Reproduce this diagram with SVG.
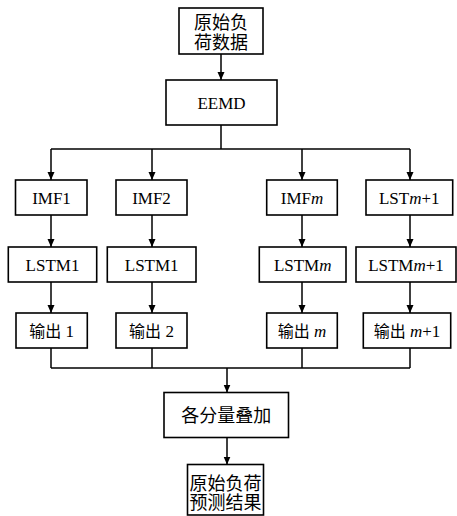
<svg xmlns="http://www.w3.org/2000/svg" width="457" height="516" viewBox="0 0 457 516">
<defs>
<marker id="ah" markerUnits="userSpaceOnUse" markerWidth="8" markerHeight="10" refX="8" refY="4" orient="auto">
<path d="M0,0.5 L8,4 L0,7.5 Z" fill="#000"/>
</marker>
<style>
rect{fill:#fff;stroke:#000;stroke-width:1.6}
.c line{stroke:#000;stroke-width:1.5;fill:none}
text{font-family:"Liberation Serif","Times New Roman",serif;font-size:17px;text-anchor:middle;fill:#000}
.zh{font-family:"Noto Sans CJK SC",sans-serif;font-size:18px}
.zs{font-family:"Noto Sans CJK SC",sans-serif;font-size:16px}
.i{font-style:italic}
</style>
</defs>
<g class="c" id="connectors">
<line x1="221" y1="54" x2="221" y2="80" marker-end="url(#ah)"/>
<line x1="221" y1="125" x2="221" y2="149"/>
<line x1="51" y1="149" x2="410" y2="149"/>
<line x1="51" y1="149" x2="51" y2="180" marker-end="url(#ah)"/>
<line x1="152" y1="149" x2="152" y2="180" marker-end="url(#ah)"/>
<line x1="302" y1="149" x2="302" y2="180" marker-end="url(#ah)"/>
<line x1="410" y1="149" x2="410" y2="180" marker-end="url(#ah)"/>
<line x1="51" y1="215" x2="51" y2="247" marker-end="url(#ah)"/>
<line x1="152" y1="215" x2="152" y2="247" marker-end="url(#ah)"/>
<line x1="302" y1="215" x2="302" y2="247" marker-end="url(#ah)"/>
<line x1="410" y1="215" x2="410" y2="247" marker-end="url(#ah)"/>
<line x1="51" y1="282" x2="51" y2="313" marker-end="url(#ah)"/>
<line x1="152" y1="282" x2="152" y2="313" marker-end="url(#ah)"/>
<line x1="302" y1="282" x2="302" y2="313" marker-end="url(#ah)"/>
<line x1="410" y1="282" x2="410" y2="313" marker-end="url(#ah)"/>
<line x1="51" y1="348" x2="51" y2="368"/>
<line x1="152" y1="348" x2="152" y2="368"/>
<line x1="302" y1="348" x2="302" y2="368"/>
<line x1="410" y1="348" x2="410" y2="368"/>
<line x1="51" y1="368" x2="410" y2="368"/>
<line x1="227" y1="368" x2="227" y2="392.5" marker-end="url(#ah)"/>
<line x1="227" y1="437.5" x2="227" y2="464.5" marker-end="url(#ah)"/>
</g>
<g id="n_raw">
<rect x="179" y="8" width="84" height="46"/>
<text class="zh"><tspan x="221" y="29">原始负</tspan><tspan x="221" y="49">荷数据</tspan></text>
</g>
<g id="n_eemd">
<rect x="166" y="80" width="111" height="45"/>
<text x="221.5" y="108.5">EEMD</text>
</g>
<g id="n_imf1">
<rect x="15.5" y="180" width="71.5" height="35"/>
<text x="51.5" y="203.5">IMF1</text>
</g>
<g id="n_imf2">
<rect x="116" y="180" width="71" height="35"/>
<text x="151.5" y="203.5">IMF2</text>
</g>
<g id="n_imfm">
<rect x="266.7" y="180" width="70.6" height="35"/>
<text x="302" y="203.5">IMF<tspan class="i">m</tspan></text>
</g>
<g id="n_lstm1p">
<rect x="366" y="180" width="86.7" height="35"/>
<text x="409.3" y="203.5">LST<tspan class="i">m</tspan>+1</text>
</g>
<g id="n_lstm1">
<rect x="8.3" y="247" width="88.4" height="35"/>
<text x="52.5" y="270.5">LSTM1</text>
</g>
<g id="n_lstm1b">
<rect x="107.3" y="247" width="88.7" height="35"/>
<text x="151.7" y="270.5">LSTM1</text>
</g>
<g id="n_lstmm">
<rect x="259.3" y="247" width="86.7" height="35"/>
<text x="302.7" y="270.5">LSTM<tspan class="i">m</tspan></text>
</g>
<g id="n_lstmm1">
<rect x="356" y="247" width="100" height="35"/>
<text x="406" y="270.5">LSTM<tspan class="i">m</tspan>+1</text>
</g>
<g id="n_out1">
<rect x="16" y="313" width="71.3" height="35"/>
<text x="51.7" y="336.5"><tspan class="zs">输出</tspan> 1</text>
</g>
<g id="n_out2">
<rect x="116" y="313" width="71" height="35"/>
<text x="151.5" y="336.5"><tspan class="zs">输出</tspan> 2</text>
</g>
<g id="n_outm">
<rect x="266.7" y="313" width="70.6" height="35"/>
<text x="302" y="336.5"><tspan class="zs">输出</tspan> <tspan class="i">m</tspan></text>
</g>
<g id="n_outm1">
<rect x="363.3" y="313" width="87.4" height="35"/>
<text x="407" y="336.5"><tspan class="zs">输出</tspan> <tspan class="i">m</tspan>+1</text>
</g>
<g id="n_sum">
<rect x="164" y="392.5" width="124.5" height="45"/>
<text class="zh" x="226.3" y="421.5">各分量叠加</text>
</g>
<g id="n_result">
<rect x="187.5" y="464.5" width="76" height="50.5"/>
<text class="zh"><tspan x="225.5" y="489.5">原始负荷</tspan><tspan x="225.5" y="508.5">预测结果</tspan></text>
</g>
</svg>
